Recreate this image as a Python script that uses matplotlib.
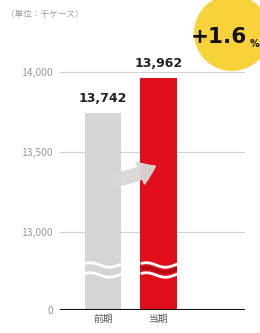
import numpy as np
import matplotlib
matplotlib.use("Agg")
import matplotlib.pyplot as plt
from matplotlib.patches import Circle, FancyArrowPatch
from matplotlib.transforms import blended_transform_factory

plt.rcParams['font.family'] = ['Noto Sans CJK JP', 'DejaVu Sans']

# データ
categories = ['前期', '当期']
values = [13742, 13962]
value_labels = ['13,742', '13,962']
bar_colors = ['#d5d5d5', '#e10f1c']
yticks = [0, 13000, 13500, 14000]
ytick_labels = ['0', '13,000', '13,500', '14,000']
unit_label = '（単位：千ケース）'
change_label = '+1.6'

# 省略目盛り: 0〜12775 を圧縮
BREAK = 12775
TOP = 14075
def fwd(v):
    return np.interp(v, [0, BREAK, TOP], [0, 42, 250])

def inv(p):
    return np.interp(p, [0, 42, 250], [0, BREAK, TOP])


fig = plt.figure(figsize=(2.6, 3.33), dpi=100)
ax = fig.add_axes([60 / 260, 23 / 333, 185 / 260, 250 / 333])
ax.set_yscale('function', functions=(fwd, inv))
ax.set_ylim(0, TOP)
ax.set_xlim(-0.77, 2.54)

x = np.arange(len(categories))
ax.bar(x, values, width=0.66, color=bar_colors, zorder=2)

# 補助線
for t in yticks[1:]:
    ax.axhline(t, color='#d2d2d2', lw=0.8, zorder=1)
ax.axhline(0, color='#111111', lw=1.5, zorder=3)

ax.set_yticks(yticks)
ax.set_yticklabels(ytick_labels)
ax.tick_params(axis='y', length=0, pad=5, labelsize=7.5, labelcolor='#9a9a9a')
ax.set_xticks(x)
ax.set_xticklabels(categories)
ax.tick_params(axis='x', length=0, pad=3, labelsize=7, labelcolor='#555555')
for s in ax.spines.values():
    s.set_visible(False)

for xi, v, lab in zip(x, values, value_labels):
    ax.text(xi, v + 50, lab, ha='center', va='bottom', fontsize=9,
            fontweight='bold', color='#222222', family='DejaVu Sans')

# 波線（省略記号）
tr = blended_transform_factory(ax.transData, ax.transAxes)
rx = np.linspace(0.68, 1.32, 120)
rw = 0.009 * np.sin((rx - 0.66) * 2 * np.pi / 0.68 + 0.5)
ax.plot(rx, 0.160 + rw, color='#b50a14', lw=2.5, transform=tr, zorder=4,
        solid_capstyle='butt')
wx = np.linspace(-0.33, 1.33, 300)
wave = 0.009 * np.sin(((wx + 0.34) % 1.0) * 2 * np.pi / 0.68 + 0.5)
for yb in [0.180, 0.140]:
    for lo, hi in [(-0.33, 0.33), (0.67, 1.33)]:
        m = (wx >= lo) & (wx <= hi)
        ax.plot(wx[m], yb + wave[m], color='white', lw=2.0, transform=tr,
                zorder=4, solid_capstyle='butt')

# 矢印
arr = FancyArrowPatch((0.12, 13320), (0.98, 13420),
                      connectionstyle='arc3,rad=0.1',
                      arrowstyle='simple,head_width=17,head_length=12,tail_width=9',
                      color='#d8d8d8', alpha=0.95, zorder=5, mutation_scale=1)
ax.add_patch(arr)

# 単位
fig.text(6 / 260, 1 - 15 / 333, unit_label, fontsize=6.2, color='#9a9a9a',
         va='center', ha='left')

# 増減率バッジ
circ = Circle((2.32, 3.00), 0.38, transform=fig.dpi_scale_trans,
              facecolor='#f8d23a', edgecolor='none', zorder=6)
fig.patches.append(circ)
fig.text(219 / 260, 1 - 37 / 333, change_label, fontsize=15.5, fontweight='heavy',
         color='#111111', ha='center', va='center', family='DejaVu Sans', zorder=7)
fig.text(254 / 260, 1 - 44 / 333, '%', fontsize=7, fontweight='bold',
         color='#111111', ha='center', va='center', family='DejaVu Sans', zorder=7)

fig.savefig('out.png', dpi=100)
